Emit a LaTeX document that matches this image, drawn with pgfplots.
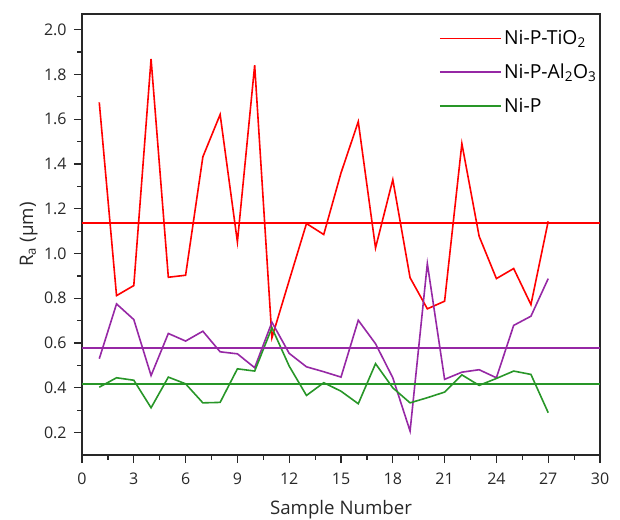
\documentclass[border=0pt]{standalone}
\usepackage{fontspec}
\setmainfont{Open Sans}
\usepackage{pgfplots}
\pgfplotsset{compat=1.18}
\definecolor{cred}{RGB}{255,0,0}
\definecolor{cpur}{RGB}{150,40,165}
\definecolor{cgrn}{RGB}{40,150,40}
\definecolor{axgray}{RGB}{40,40,40}
\begin{document}
\begin{tikzpicture}
\begin{axis}[
  scale only axis, width=388.5pt, height=330.75pt,
  xmin=0, xmax=30, ymin=0.1, ymax=2.07,
  xtick={0,3,...,30}, minor xtick={1.5,4.5,...,28.5},
  ytick={0.2,0.4,...,2.0}, minor ytick={0.3,0.5,...,1.9},
  xtick pos=bottom, ytick pos=left, tick align=outside,
  major tick length=6pt, minor tick length=3.5pt,
  every tick/.style={axgray, line width=0.9pt},
  axis line style={axgray, line width=1.1pt},
  /pgf/number format/assume math mode=true,
  ticklabel style={font=\fontsize{12}{14}\selectfont, text=axgray},
  xticklabel style={yshift=-4pt},
  yticklabel style={xshift=-2pt, /pgf/number format/.cd, fixed, fixed zerofill, precision=1},
  xlabel={Sample Number}, ylabel={R\textsubscript{a} (μm)},
  label style={font=\fontsize{14}{16}\selectfont, text=axgray},
  xlabel style={yshift=-5pt}, ylabel style={yshift=-2pt},
  legend cell align=left,
  legend style={draw=none, fill=none, at={(0.689,0.968)}, anchor=north west,
    font=\fontsize{14.5}{16}\selectfont, row sep=10pt, inner sep=0pt,
    nodes={inner sep=1.5pt}},
  legend image code/.code={\draw[#1, line width=1.2pt] (0pt,0pt) -- (46pt,0pt);},
]
\addplot[cred, line width=1.2pt] coordinates {
(1,1.675)(2,0.812)(3,0.857)(4,1.869)(5,0.894)(6,0.903)(7,1.432)(8,1.621)(9,1.052)(10,1.841)
(11,0.624)(12,0.88)(13,1.134)(14,1.085)(15,1.36)(16,1.589)(17,1.025)(18,1.330)(19,0.892)(20,0.753)
(21,0.787)(22,1.491)(23,1.077)(24,0.888)(25,0.933)(26,0.772)(27,1.144)};
\addlegendentry{Ni-P-TiO\textsubscript{2}}
\addplot[cpur, line width=1.2pt] coordinates {
(1,0.530)(2,0.775)(3,0.705)(4,0.455)(5,0.643)(6,0.609)(7,0.653)(8,0.561)(9,0.552)(10,0.490)
(11,0.693)(12,0.554)(13,0.494)(14,0.472)(15,0.448)(16,0.702)(17,0.597)(18,0.445)(19,0.207)(20,0.955)
(21,0.438)(22,0.470)(23,0.481)(24,0.445)(25,0.679)(26,0.720)(27,0.888)};
\addlegendentry{Ni-P-Al\textsubscript{2}O\textsubscript{3}}
\addplot[cgrn, line width=1.2pt] coordinates {
(1,0.403)(2,0.445)(3,0.434)(4,0.311)(5,0.448)(6,0.418)(7,0.333)(8,0.335)(9,0.485)(10,0.475)
(11,0.668)(12,0.497)(13,0.366)(14,0.423)(15,0.385)(16,0.329)(17,0.508)(18,0.400)(19,0.333)(20,0.356)
(21,0.381)(22,0.458)(23,0.411)(24,0.442)(25,0.475)(26,0.460)(27,0.289)};
\addlegendentry{Ni-P}
\addplot[cred, line width=1.2pt, forget plot] coordinates {(0,1.137)(30,1.137)};
\addplot[cpur, line width=1.2pt, forget plot] coordinates {(0,0.579)(30,0.579)};
\addplot[cgrn, line width=1.2pt, forget plot] coordinates {(0,0.416)(30,0.416)};
\end{axis}
\pgfresetboundingbox
\path (-61.5pt,-48pt) rectangle (403.5pt,341.25pt);
\end{tikzpicture}
\end{document}
